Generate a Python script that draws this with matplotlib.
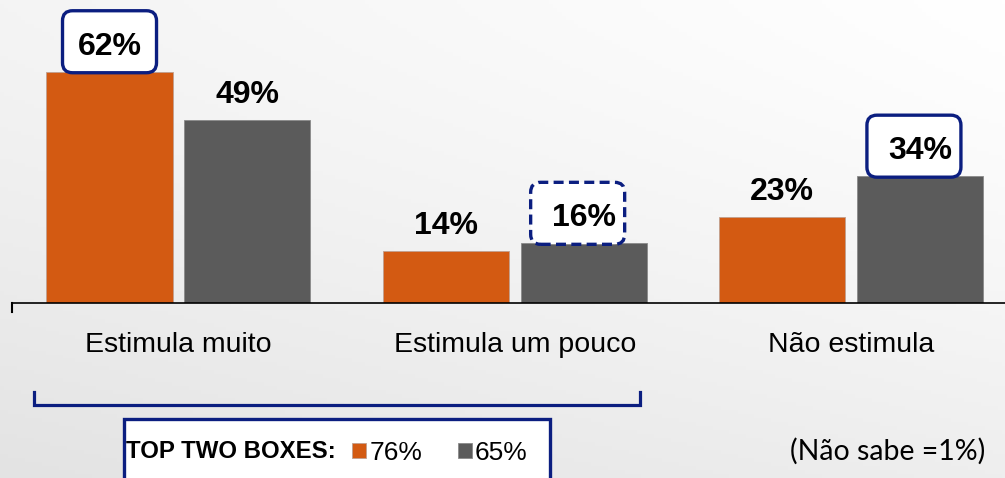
import numpy as np
import matplotlib
matplotlib.use("Agg")
import matplotlib.pyplot as plt
from matplotlib.patches import FancyBboxPatch, Rectangle
from matplotlib.lines import Line2D

# dados
categorias = ["Estimula muito", "Estimula um pouco", "Não estimula"]
serie_a = [62, 14, 23]   # laranja
serie_b = [49, 16, 34]   # cinza
top_two = ["76%", "65%"]
nota = "(Não sabe =1%)"
# caixas de destaque: (serie, indice, tracejado)
destaques = [(0, 0, False), (1, 1, True), (1, 2, False)]

LARANJA = "#D35A12"
CINZA = "#5B5B5B"
AZUL = "#0B1E80"

W, H = 1005, 478
fig = plt.figure(figsize=(W / 100, H / 100), dpi=100)

# fundo degradê
bg = fig.add_axes([0, 0, 1, 1], zorder=-10)
yy, xx = np.mgrid[0:1:120j, 0:1:240j]
grad = 255 - 17 * yy ** 1.3 - 11 * (1 - xx)
bg.imshow(np.dstack([grad, grad, grad]) / 255, aspect="auto", extent=[0, 1, 0, 1], origin="upper")
bg.axis("off")

px_y = 3.73   # px por %
base = 303    # px da linha de base (a partir do topo)
ax = fig.add_axes([12 / W, (H - base) / H, 1 - 12 / W, base / H])
ax.patch.set_alpha(0)
ax.set_ylim(0, base / px_y)
ax.set_xlim(-0.495, 2.458)

x = np.arange(len(categorias))
larg = 0.375
desl = 0.205
b1 = ax.bar(x - desl, serie_a, larg, color=LARANJA, edgecolor="#c0a090", linewidth=0.6)
b2 = ax.bar(x + desl, serie_b, larg, color=CINZA, edgecolor="#8a8a8a", linewidth=0.6)

for barras, vals in ((b1, serie_a), (b2, serie_b)):
    for r, v in zip(barras, vals):
        ax.annotate(f"{v}%", (r.get_x() + r.get_width() / 2, v), xytext=(0, 18),
                    textcoords="offset points", ha="center", va="center",
                    fontsize=23, fontweight="bold", family="Liberation Sans", zorder=5)

# caixas arredondadas
ux = 1 / 336.25  # unidades x por px
uy = 1 / px_y
for s, i, tracejado in destaques:
    vals = serie_a if s == 0 else serie_b
    cx = x[i] + (-desl if s == 0 else desl)
    if s == 1:
        cx -= 6 * ux
    bw, bh = 94 * ux, 62 * uy
    caixa = FancyBboxPatch((cx - bw / 2, vals[i] - 1 * uy), bw, bh,
                           boxstyle=f"round,pad=0,rounding_size={10 * ux}",
                           mutation_aspect=uy / ux,
                           fc="white", ec=AZUL, lw=2.4,
                           ls=(0, (3, 1.6)) if tracejado else "-", zorder=4, clip_on=False)
    ax.add_patch(caixa)

for sp in ("top", "right", "left"):
    ax.spines[sp].set_visible(False)
ax.spines["bottom"].set_linewidth(1.2)
ax.add_line(Line2D([-0.495, -0.495], [0, -9 * uy], color="black", lw=1.5, clip_on=False))
ax.set_yticks([])
ax.set_xticks(x)
ax.set_xticklabels(categorias, fontsize=20.5, family="Liberation Sans")
ax.tick_params(axis="x", length=0, pad=21)

# chave sob as duas primeiras categorias
ft = fig.transFigure
def fx(p):
    return p / W
def fy(p):
    return 1 - p / H
fig.add_artist(Line2D([fx(34), fx(34), fx(640), fx(640)], [fy(392), fy(405), fy(405), fy(392)],
                      color=AZUL, lw=2.3, transform=ft, solid_joinstyle="miter"))

# caixa TOP TWO BOXES
fig.add_artist(Rectangle((fx(124), fy(490)), fx(550) - fx(124), fy(419) - fy(490),
                         transform=ft, fc="white", ec=AZUL, lw=2.4))
fig.text(fx(126), fy(452), "TOP TWO BOXES:", fontsize=17.3, fontweight="bold",
         family="Liberation Sans", va="center", ha="left")
fig.add_artist(Rectangle((fx(352), fy(458)), fx(14), 15 / H, transform=ft,
                         fc=LARANJA, ec="#c0a090", lw=0.6))
fig.text(fx(370), fy(453), top_two[0], fontsize=19, family="Liberation Sans", va="center")
fig.add_artist(Rectangle((fx(458), fy(458)), fx(14), 15 / H, transform=ft,
                         fc=CINZA, ec="#8a8a8a", lw=0.6))
fig.text(fx(475), fy(453), top_two[1], fontsize=19, family="Liberation Sans", va="center")

fig.text(fx(985), fy(451), nota, fontsize=20.5, family="Lato", ha="right", va="center")

fig.savefig("out.png", dpi=100)
